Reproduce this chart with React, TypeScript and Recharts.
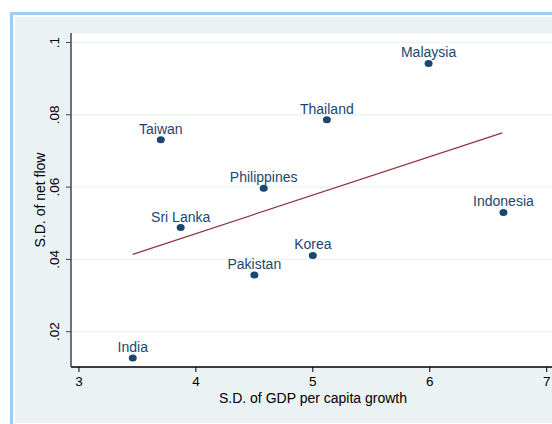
import { ScatterChart, Scatter, XAxis, YAxis, CartesianGrid, Label } from "recharts";

// country data: S.D. of GDP per capita growth vs S.D. of net flow
const countries = ["Malaysia", "Thailand", "Taiwan", "Philippines", "Indonesia", "Sri Lanka", "Korea", "Pakistan", "India"];
const gdpGrowthSD = [5.99, 5.12, 3.7, 4.58, 6.63, 3.87, 5.0, 4.5, 3.46];
const netFlowSD = [0.0942, 0.0786, 0.0731, 0.0597, 0.053, 0.0488, 0.0411, 0.0357, 0.0127];

// fitted line endpoints
const fitX = [3.46, 6.62];
const fitY = [0.0414, 0.075];

const xTicks = [3, 4, 5, 6, 7];
const yTicks = [0.02, 0.04, 0.06, 0.08, 0.1];

const points = countries.map((name, i) => ({ name, x: gdpGrowthSD[i], y: netFlowSD[i] }));
const fit = fitX.map((x, i) => ({ x, y: fitY[i] }));

const NAVY = "#1a476f";
const FONT = "'Liberation Sans', Arial, sans-serif";

const fmtY = (v: number) => String(Number(v.toFixed(2))).replace(/^0/, "");

function PointWithLabel(props: any) {
  const { cx, cy, payload } = props;
  if (cx == null || cy == null) return null;
  return (
    <g>
      <ellipse cx={cx} cy={cy} rx={4} ry={3.5} fill={NAVY} />
      <text x={cx} y={cy - 6} textAnchor="middle" fontSize={14} fill={NAVY} fontFamily={FONT}>
        {payload.name}
      </text>
    </g>
  );
}

function YTick(props: any) {
  const { x, y, payload } = props;
  return (
    <text
      transform={`translate(${x},${y}) rotate(-90)`}
      textAnchor="middle"
      fontSize={13.5}
      fill="#000"
      fontFamily={FONT}
    >
      {fmtY(payload.value)}
    </text>
  );
}

export default function App() {
  return (
    <div style={{ position: "fixed", left: 0, top: 0, width: 552, height: 424, overflow: "hidden", background: "#fff" }}>
      <div
        style={{
          position: "absolute",
          left: 10,
          top: 12,
          width: 620,
          height: 420,
          borderLeft: "3px solid #a3cbf0",
          borderTop: "3px solid #a3cbf0",
          boxSizing: "border-box",
        }}
      />
      <div style={{ position: "absolute", left: 15, top: 17, width: 620, height: 406, background: "#eaf2f3" }} />
      <div style={{ position: "absolute", left: 0, top: 0 }}>
        <ScatterChart width={600} height={424} margin={{ top: 33, right: 45, left: 11, bottom: 17 }}>
          <CartesianGrid vertical={false} stroke="#eaf2f3" fill="#ffffff" strokeWidth={1.2} />
          <XAxis
            type="number"
            dataKey="x"
            domain={[2.932, 7.071]}
            ticks={xTicks}
            allowDataOverflow
            height={40}
            tickSize={5}
            tickMargin={4}
            stroke="#000"
            axisLine={{ stroke: "#000", strokeWidth: 1.5 }}
            tickLine={{ stroke: "#000" }}
            tick={{ fontSize: 13.5, fill: "#000", fontFamily: FONT }}
          >
            <Label
              content={({ viewBox }: any) => (
                <text
                  x={viewBox.x + viewBox.width / 2}
                  y={viewBox.y + 36}
                  textAnchor="middle"
                  fontSize={14}
                  fill="#000"
                  fontFamily={FONT}
                >
                  S.D. of GDP per capita growth
                </text>
              )}
            />
          </XAxis>
          <YAxis
            type="number"
            dataKey="y"
            domain={[0.01023, 0.10263]}
            ticks={yTicks}
            allowDataOverflow
            width={60}
            tickSize={5}
            tickMargin={7}
            axisLine={{ stroke: "#444", strokeWidth: 1.5 }}
            tickLine={{ stroke: "#444" }}
            tick={<YTick />}
          >
            <Label
              content={({ viewBox }: any) => (
                <text
                  transform={`translate(45,${viewBox.y + viewBox.height / 2}) rotate(-90)`}
                  textAnchor="middle"
                  fontSize={14}
                  fill="#000"
                  fontFamily={FONT}
                >
                  S.D. of net flow
                </text>
              )}
            />
          </YAxis>
          <Scatter
            data={fit}
            line={{ stroke: "#90353b", strokeWidth: 1.2 }}
            shape={() => null}
            isAnimationActive={false}
          />
          <Scatter data={points} shape={<PointWithLabel />} isAnimationActive={false} />
        </ScatterChart>
      </div>
    </div>
  );
}
